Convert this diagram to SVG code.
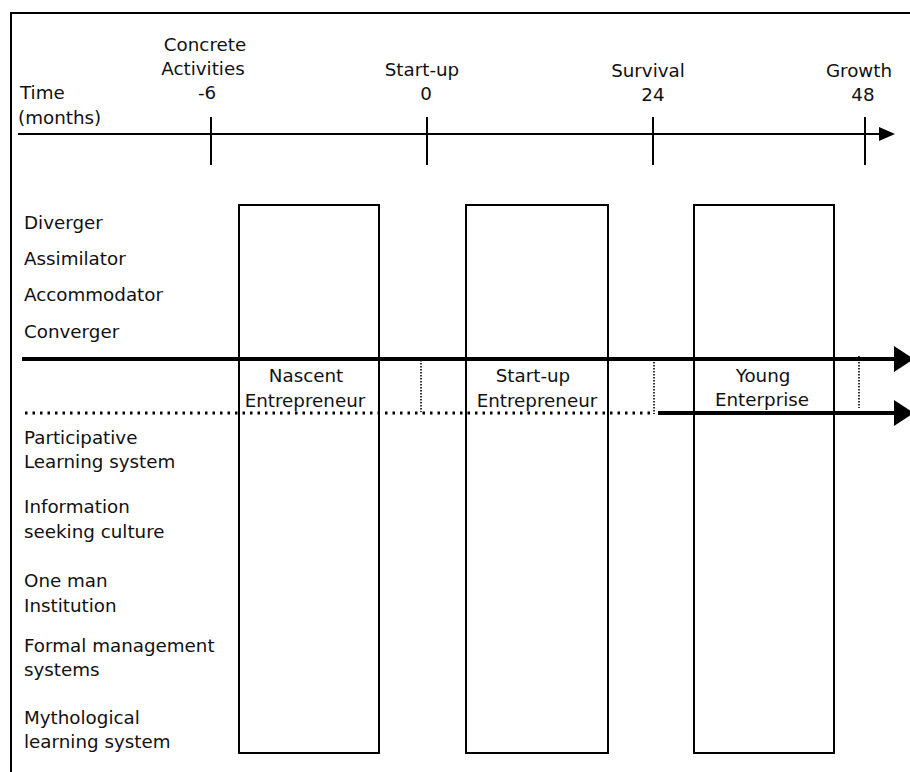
<svg xmlns="http://www.w3.org/2000/svg" width="910" height="772" viewBox="0 0 910 772">
<style>
text{font-family:"DejaVu Sans","Liberation Sans",sans-serif;font-size:18.3px;fill:#111}
.m{text-anchor:middle}
.box{fill:none;stroke:#000;stroke-width:2}
.tick{stroke:#000;stroke-width:2}
.thin{stroke:#000;stroke-width:2;fill:none}
.thick{stroke:#000;stroke-width:4;fill:none}
.dots{stroke:#000;stroke-width:3;stroke-dasharray:2.5 5;fill:none}
.vdot{stroke:#000;stroke-width:1.6;stroke-dasharray:1.5 1.5;fill:none}
</style>
<defs>
<marker id="ah" markerWidth="10" markerHeight="10" refX="10" refY="5" orient="auto" markerUnits="userSpaceOnUse" viewBox="0 0 10 10"><path d="M0,0 L10,5 L0,10 z" fill="#000"/></marker>
</defs>
<rect x="0" y="0" width="910" height="772" fill="#fff"/>
<rect x="11" y="13" width="1000" height="1000" fill="none" stroke="#000" stroke-width="2"/>

<g id="timeline">
<line x1="18" y1="134" x2="880" y2="134" class="thin"/>
<path d="M879,127 L895,134 L879,141 z" fill="#000"/>
<line x1="211" y1="117" x2="211" y2="165" class="tick"/>
<line x1="427" y1="117" x2="427" y2="165" class="tick"/>
<line x1="653" y1="117" x2="653" y2="165" class="tick"/>
<line x1="865" y1="117" x2="865" y2="165" class="tick"/>
<text x="20" y="99">Time</text>
<text x="18" y="124">(months)</text>
<text x="205" y="51" class="m">Concrete</text>
<text x="203" y="75" class="m">Activities</text>
<text x="207" y="99" class="m">-6</text>
<text x="422" y="76" class="m">Start-up</text>
<text x="426" y="100" class="m">0</text>
<text x="648" y="77" class="m">Survival</text>
<text x="653" y="101" class="m">24</text>
<text x="859" y="77" class="m">Growth</text>
<text x="863" y="101" class="m">48</text>
</g>

<g id="styles">
<text x="24" y="229">Diverger</text>
<text x="24" y="265">Assimilator</text>
<text x="24" y="301">Accommodator</text>
<text x="24" y="338">Converger</text>
</g>

<g id="cultures">
<text x="24" y="444">Participative</text>
<text x="24" y="468">Learning system</text>
<text x="24" y="513">Information</text>
<text x="24" y="538">seeking culture</text>
<text x="24" y="587">One man</text>
<text x="24" y="612">Institution</text>
<text x="24" y="652">Formal management</text>
<text x="24" y="676">systems</text>
<text x="24" y="724">Mythological</text>
<text x="24" y="748">learning system</text>
</g>

<g id="nascent">
<rect x="239" y="205" width="140" height="548" class="box"/>
<text x="306" y="382" class="m">Nascent</text>
<text x="305" y="407" class="m">Entrepreneur</text>
</g>
<g id="startup">
<rect x="466" y="205" width="142" height="548" class="box"/>
<text x="533" y="382" class="m">Start-up</text>
<text x="537" y="407" class="m">Entrepreneur</text>
</g>
<g id="young">
<rect x="694" y="205" width="140" height="548" class="box"/>
<text x="763" y="382" class="m">Young</text>
<text x="762" y="406" class="m">Enterprise</text>
</g>

<g id="connectors">
<line x1="22" y1="359" x2="896" y2="359" class="thick"/>
<path d="M894,346 L914,359 L894,372 z" fill="#000"/>
<line x1="25" y1="413" x2="652" y2="413" class="dots"/>
<line x1="658" y1="413" x2="896" y2="413" class="thick"/>
<path d="M894,400 L914,413 L894,426 z" fill="#000"/>
<line x1="421" y1="357" x2="421" y2="412" class="vdot"/>
<line x1="654" y1="359" x2="654" y2="414" class="vdot"/>
<line x1="859" y1="356" x2="859" y2="408" class="vdot"/>
</g>
</svg>
